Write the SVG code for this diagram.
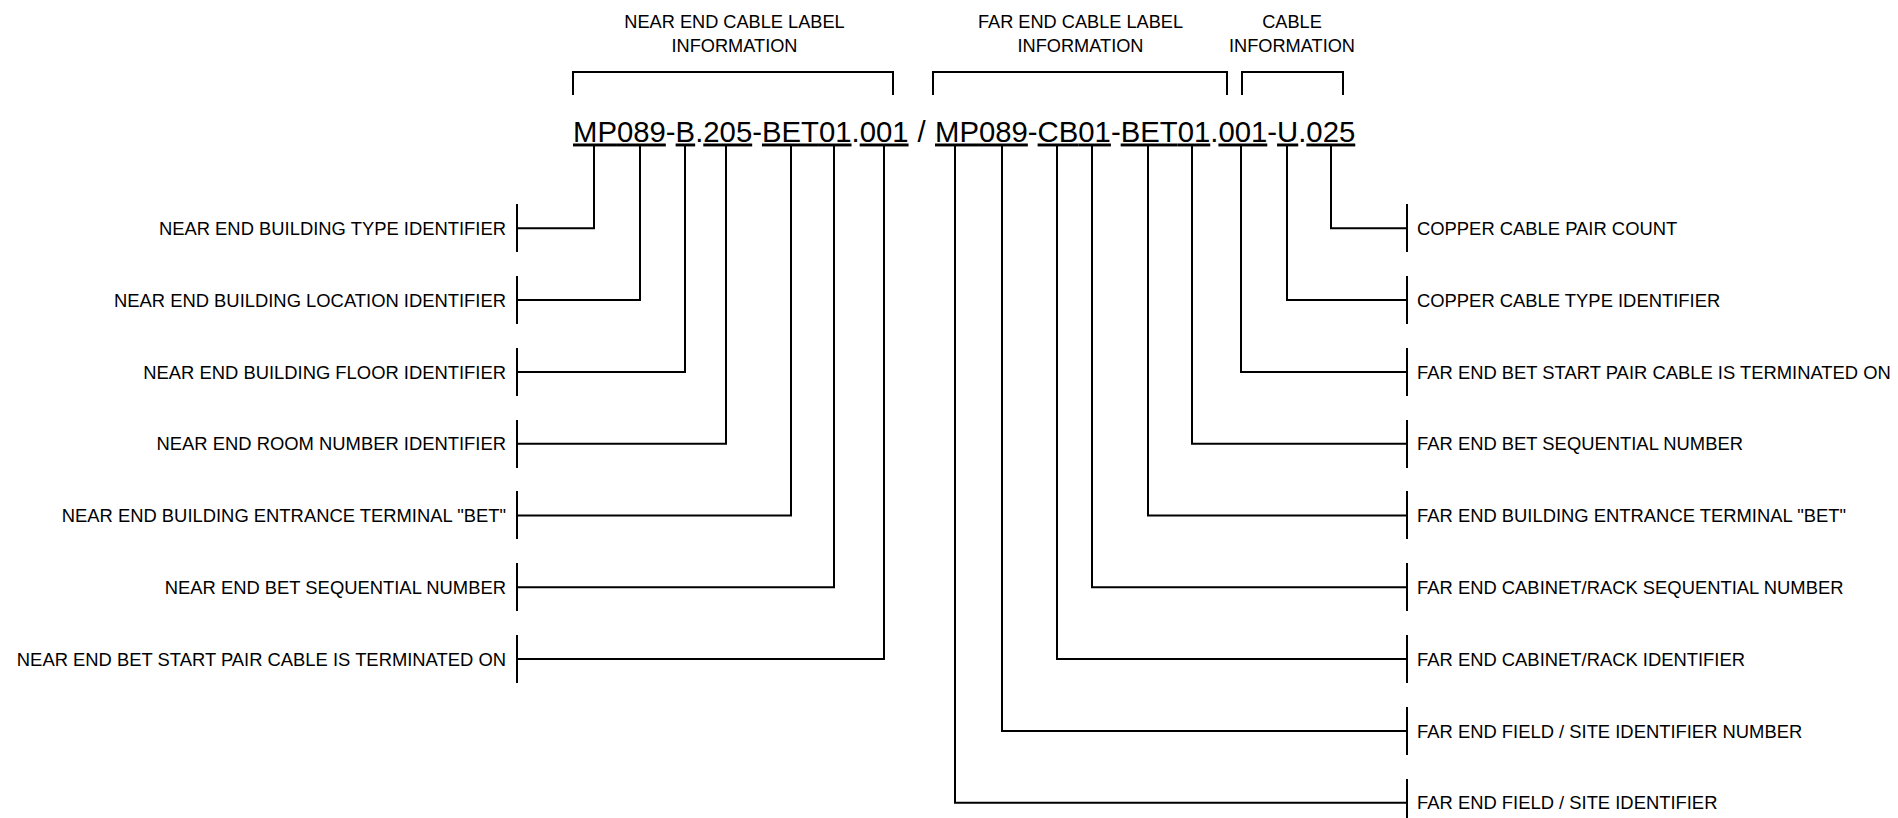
<svg xmlns="http://www.w3.org/2000/svg" width="1898" height="818" viewBox="0 0 1898 818">
<style>
text{font-family:"Liberation Sans",Arial,sans-serif;fill:#000}
.t{font-size:18.2px}
.c{font-size:29.3px}
.u{text-decoration:underline}
.l{font-size:18.4px;text-anchor:end}
.r{font-size:18.4px}
.m{text-anchor:middle}
line,path,polyline{stroke:#000;stroke-width:2;fill:none}
</style>
<rect width="1898" height="818" fill="#fff"/>
<g id="title-near">
<text class="t m" x="734.5" y="27.7">NEAR END CABLE LABEL</text>
<text class="t m" x="734.5" y="51.7">INFORMATION</text>
<polyline points="573,95 573,72 893,72 893,95"/>
</g>
<g id="title-far">
<text class="t m" x="1080.5" y="27.7">FAR END CABLE LABEL</text>
<text class="t m" x="1080.5" y="51.7">INFORMATION</text>
<polyline points="933,95 933,72 1227,72 1227,95"/>
</g>
<g id="title-cable">
<text class="t m" x="1292" y="27.7">CABLE</text>
<text class="t m" x="1292" y="51.7">INFORMATION</text>
<polyline points="1242,95 1242,72 1343,72 1343,95"/>
</g>
<g id="code">
<text class="c" x="573" y="141.5"><tspan class="u">MP</tspan><tspan class="u">089</tspan>-<tspan class="u">B</tspan>.<tspan class="u">205</tspan>-<tspan class="u">BET</tspan><tspan class="u">01</tspan>.<tspan class="u">001</tspan></text>
<text class="c" x="917.5" y="141.5">/</text>
<text class="c" x="935" y="141.5"><tspan class="u">MP</tspan><tspan class="u">089</tspan>-<tspan class="u">CB</tspan><tspan class="u">01</tspan>-<tspan class="u">BET</tspan><tspan class="u">01</tspan>.<tspan class="u">001</tspan>-<tspan class="u">U</tspan>.<tspan class="u">025</tspan></text>
</g>
<g id="connectors">
<path d="M594,146V228.3H517"/>
<path d="M640,146V300.1H517"/>
<path d="M685,146V371.9H517"/>
<path d="M726,146V443.7H517"/>
<path d="M791,146V515.5H517"/>
<path d="M834,146V587.3H517"/>
<path d="M884,146V659.1H517"/>
<path d="M1331,146V228.3H1407"/>
<path d="M1287,146V300.1H1407"/>
<path d="M1241,146V371.9H1407"/>
<path d="M1192,146V443.7H1407"/>
<path d="M1148,146V515.5H1407"/>
<path d="M1092,146V587.3H1407"/>
<path d="M1057,146V659.1H1407"/>
<path d="M1002,146V730.9H1407"/>
<path d="M955,146V802.7H1407"/>
</g>
<g id="n-l0"><line x1="517" y1="204" x2="517" y2="252"/><text class="l" x="506" y="235">NEAR END BUILDING TYPE IDENTIFIER</text></g>
<g id="n-l1"><line x1="517" y1="276" x2="517" y2="324"/><text class="l" x="506" y="306.8">NEAR END BUILDING LOCATION IDENTIFIER</text></g>
<g id="n-l2"><line x1="517" y1="348" x2="517" y2="396"/><text class="l" x="506" y="378.6">NEAR END BUILDING FLOOR IDENTIFIER</text></g>
<g id="n-l3"><line x1="517" y1="420" x2="517" y2="468"/><text class="l" x="506" y="450.4">NEAR END ROOM NUMBER IDENTIFIER</text></g>
<g id="n-l4"><line x1="517" y1="491" x2="517" y2="539"/><text class="l" x="506" y="522.2">NEAR END BUILDING ENTRANCE TERMINAL "BET"</text></g>
<g id="n-l5"><line x1="517" y1="563" x2="517" y2="611"/><text class="l" x="506" y="594">NEAR END BET SEQUENTIAL NUMBER</text></g>
<g id="n-l6"><line x1="517" y1="635" x2="517" y2="683"/><text class="l" x="506" y="665.8">NEAR END BET START PAIR CABLE IS TERMINATED ON</text></g>
<g id="n-r0"><line x1="1407" y1="204" x2="1407" y2="252"/><text class="r" x="1417" y="235">COPPER CABLE PAIR COUNT</text></g>
<g id="n-r1"><line x1="1407" y1="276" x2="1407" y2="324"/><text class="r" x="1417" y="306.8">COPPER CABLE TYPE IDENTIFIER</text></g>
<g id="n-r2"><line x1="1407" y1="348" x2="1407" y2="396"/><text class="r" x="1417" y="378.6">FAR END BET START PAIR CABLE IS TERMINATED ON</text></g>
<g id="n-r3"><line x1="1407" y1="420" x2="1407" y2="468"/><text class="r" x="1417" y="450.4">FAR END BET SEQUENTIAL NUMBER</text></g>
<g id="n-r4"><line x1="1407" y1="491" x2="1407" y2="539"/><text class="r" x="1417" y="522.2">FAR END BUILDING ENTRANCE TERMINAL "BET"</text></g>
<g id="n-r5"><line x1="1407" y1="563" x2="1407" y2="611"/><text class="r" x="1417" y="594">FAR END CABINET/RACK SEQUENTIAL NUMBER</text></g>
<g id="n-r6"><line x1="1407" y1="635" x2="1407" y2="683"/><text class="r" x="1417" y="665.8">FAR END CABINET/RACK IDENTIFIER</text></g>
<g id="n-r7"><line x1="1407" y1="707" x2="1407" y2="755"/><text class="r" x="1417" y="737.6">FAR END FIELD / SITE IDENTIFIER NUMBER</text></g>
<g id="n-r8"><line x1="1407" y1="779" x2="1407" y2="827"/><text class="r" x="1417" y="809.4">FAR END FIELD / SITE IDENTIFIER</text></g>
</svg>
